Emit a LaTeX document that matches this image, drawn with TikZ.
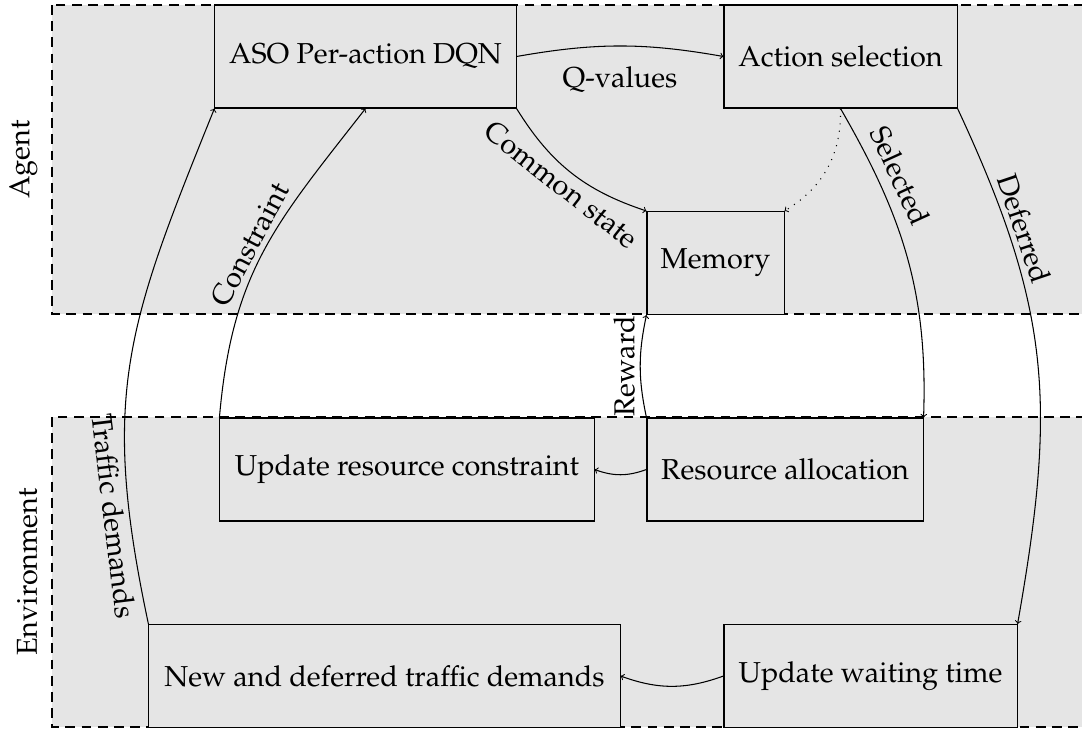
\documentclass[tikz,border=0pt]{standalone}
\usepackage[T1]{fontenc}
\usepackage{mathpazo}
\begin{document}
\begin{tikzpicture}[x=0.025cm,y=-0.025cm,
  font=\fontsize{20.5}{24}\selectfont, line width=0.75pt,
  band/.style={fill=gray!20, draw, dash pattern=on 7pt off 4.5pt},
  box/.style={draw, fill=gray!20, rectangle, inner sep=0pt, minimum height=2.575cm},
  arr/.style={->},
  dots/.style={dash pattern=on 0.75pt off 4.5pt}]
\useasboundingbox (0,0) rectangle (1082,730);
% bands
\path[band] (52,5) rectangle (1100,314);
\path[band] (52,417) rectangle (1100,727);
\node[rotate=90, anchor=south, inner sep=0pt] (agentlab) at (38,159.5) {Agent};
\node[rotate=90, anchor=south, inner sep=0pt] (envlab) at (38,572) {Environment};
% boxes
\node[box, minimum width=7.525cm] (aso) at (365.5,56.5) {ASO Per-action DQN};
\node[box, minimum width=5.825cm] (as) at (840.5,56.5) {Action selection};
\node[box, minimum width=3.425cm] (mem) at (715.5,263) {Memory};
\node[box, minimum width=9.35cm] (urc) at (407,469.5) {Update resource constraint};
\node[box, minimum width=6.9cm] (ra) at (785,469.5) {Resource allocation};
\node[box, minimum width=11.775cm] (ndt) at (384.5,676) {New and deferred traffic demands};
\node[box, minimum width=7.325cm] (uwt) at (870.5,676) {Update waiting time};
% connectors
\draw[arr] (aso.east) to[bend left=10] node[below, yshift=-11pt] (lq) {Q-values} (as.west);
\draw[arr] (aso.south east) to[bend right=20] node[sloped, below] (lcs) {Common state} (mem.north west);
\draw[arr, dots] (as.south) to[bend left=30] (mem.north east);
\draw[arr] (as.south) to[out=-60, in=88] node[pos=0.25, sloped, above=4pt] (lsel) {Selected} (ra.north east);
\draw[arr] (as.south east) to[out=-65, in=80, looseness=1.1] node[pos=0.23, sloped, above] (ldef) {Deferred} (uwt.north east);
\draw[arr] (ra.north west) to[bend left=12] node[midway, rotate=90, anchor=south] (lrew) {Reward} (mem.south west);
\draw[arr] (urc.north west) to[out=85, in=-128, looseness=1.1] node[pos=0.5, sloped, above] (lcon) {Constraint} (aso.south);
\draw[arr] (ndt.north west) to[out=102, in=-112, looseness=1.15] node[pos=0.18, sloped, below] (ltd) {Traffic demands} (aso.south west);
\draw[arr] (ra.west) to[bend left=20] (urc.east);
\draw[arr] (uwt.west) to[bend left=20] (ndt.east);
\end{tikzpicture}
\end{document}
